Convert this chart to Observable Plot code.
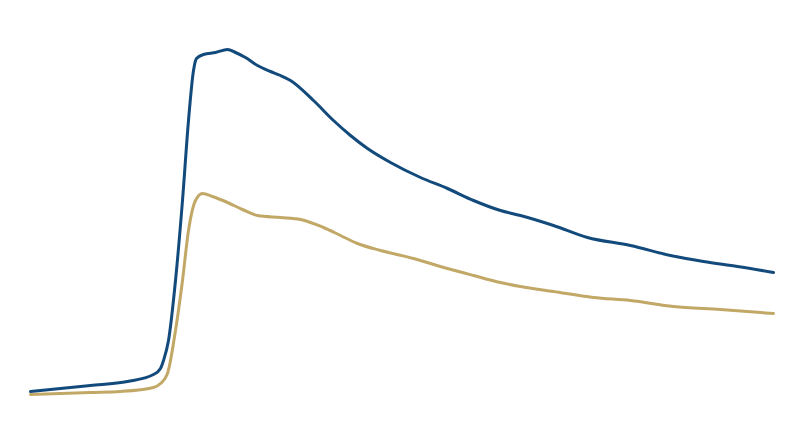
<!DOCTYPE html>
<html>
<head>
<meta charset="utf-8">
<script src="https://cdn.jsdelivr.net/npm/d3@7"></script>
<script src="https://cdn.jsdelivr.net/npm/@observablehq/plot@0.6"></script>
<style>
  html, body { margin: 0; padding: 0; background: #fff; }
</style>
</head>
<body>
<div id="chart"></div>
<script>
// time steps (arbitrary units)
const blueT = [0,30,60,97,123,130,133,138,145,152,158,163,166,173,185,197,205,215,227,240,250,260,283,303,320,337,360,390,417,443,470,490,523,557,600,640,673,707,743];
const blueV = [4,7,10,14,21,27,35,55,115,195,275,325,337,341,343,346,343,338,330,324,320,315,295,275,260,247,233,218,207,195,185,180,170,158,150,140,134,129,123];

const goldT = [0,30,60,90,123,130,137,145,152,158,165,172,182,197,212,227,250,270,293,310,327,350,383,417,443,470,490,523,563,600,643,690,743];
const goldV = [1,2,3,4,8,12,22,65,115,165,195,202,199,193,186,180,178,176,168,160,152,145,137,127,120,113,109,104,98,95,89,86,82];

const blue = blueT.map((t, i) => ({t, v: blueV[i]}));
const gold = goldT.map((t, i) => ({t, v: goldV[i]}));

const chart = Plot.plot({
  width: 800,
  height: 447,
  marginLeft: 30,
  marginRight: 27,
  marginTop: 48,
  marginBottom: 52,
  x: {domain: [0, 743], axis: null},
  y: {domain: [0, 347], axis: null},
  marks: [
    Plot.line(gold, {x: "t", y: "v", stroke: "#c2a866", strokeWidth: 3, curve: "monotone-x"}),
    Plot.line(blue, {x: "t", y: "v", stroke: "#134a7c", strokeWidth: 3, curve: "monotone-x"})
  ]
});
document.getElementById("chart").appendChild(chart);
</script>
</body>
</html>
